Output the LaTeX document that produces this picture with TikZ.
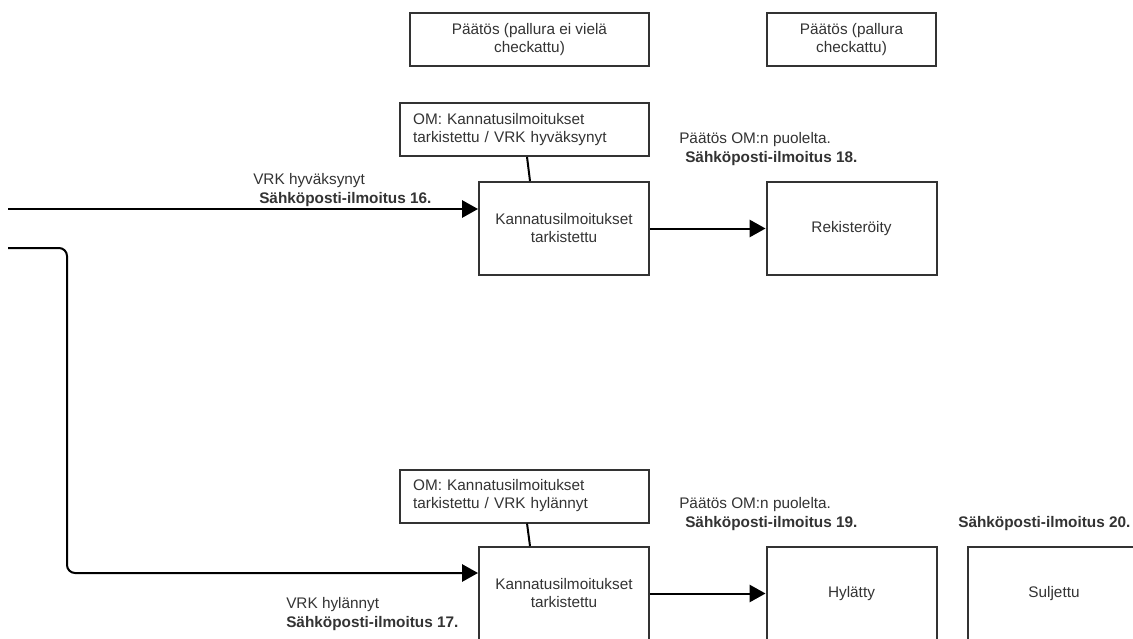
\documentclass[tikz,border=0pt]{standalone}
\usepackage{fontspec}
\setmainfont{Liberation Sans}
\usetikzlibrary{arrows.meta,calc}
\definecolor{txt}{HTML}{333333}
\begin{document}
\begin{tikzpicture}[x=0.75pt,y=-0.75pt,
  every node/.style={font=\fontsize{11.5}{13.5}\selectfont, text=txt},
  box/.style={draw=txt, line width=1.5pt, inner sep=0pt, align=center},
  wide/.style={minimum width=127.5pt, minimum height=69.75pt},
  omnote/.style={draw=txt, line width=1.5pt, inner ysep=0pt, inner xsep=9.75pt, text width=167pt, align=left, minimum height=39.75pt},
  conn/.style={line width=1.5pt, draw=black},
  arr/.style={conn, -{Triangle[length=12pt,width=13pt]}},
  lbl/.style={anchor=base west, inner sep=0pt, align=left, font=\fontsize{11.5}{14}\selectfont}]
\clip (0,0) rectangle (1133,639);
\fill[white] (0,0) rectangle (1133,639);

% top legend boxes
\node[box, minimum width=179.25pt, minimum height=39.75pt] (top1) at (529.5,39.5) {Päätös (pallura ei vielä\\checkattu)};
\node[box, minimum width=126.75pt, minimum height=39.75pt] (top2) at (851.5,39.5) {Päätös (pallura\\checkattu)};

% row 1
\node[omnote] (om1) at (524.5,129.5) {OM: Kannatusilmoitukset\\tarkistettu / VRK hyväksynyt};
\node[box, wide] (k1) at (564,228.5) {Kannatusilmoitukset\\tarkistettu};
\node[box, wide] (rek) at (851.5,228.5) {Rekisteröity};

% row 2
\node[omnote] (om2) at (524.5,496) {OM: Kannatusilmoitukset\\tarkistettu / VRK hylännyt};
\node[box, wide] (k2) at (564,593.5) {Kannatusilmoitukset\\tarkistettu};
\node[box, wide] (hyl) at (851.5,593.5) {Hylätty};
\node[box, minimum width=129pt, minimum height=69.75pt] (sul) at (1054,593.5) {Suljettu};

% labels (base = last line)
\node[lbl] (l16) at (253,203) {VRK hyväksynyt\\\hspace*{4.5pt}\textbf{Sähköposti-ilmoitus 16.}};
\node[lbl] (l18) at (679,162) {Päätös OM:n puolelta.\\\hspace*{4.5pt}\textbf{Sähköposti-ilmoitus 18.}};
\node[lbl] (l17) at (286,627) {VRK hylännyt\\\textbf{Sähköposti-ilmoitus 17.}};
\node[lbl] (l19) at (679,527) {Päätös OM:n puolelta.\\\hspace*{4.5pt}\textbf{Sähköposti-ilmoitus 19.}};
\node[lbl] (l20) at (958,527) {\textbf{Sähköposti-ilmoitus 20.}};

% coordinates for free ends
\coordinate (in1) at (8,209);
\coordinate (in2) at (8,248);
\coordinate (c1) at (67,248);
\coordinate (c2) at (67,573);

% connectors
\draw[conn] ([xshift=1.9pt]om1.south) -- ([xshift=-25.5pt]k1.north);
\draw[conn] ([xshift=1.9pt]om2.south) -- ([xshift=-25.5pt]k2.north);
\draw[arr] (in1) -- (in1 -| k1.west);
\draw[arr, rounded corners=6pt] (in2) -- (c1) -- (c2) -- (c2 -| k2.west);
\draw[arr] (k1) -- (rek);
\draw[arr] (k2) -- (hyl);
\end{tikzpicture}
\end{document}
